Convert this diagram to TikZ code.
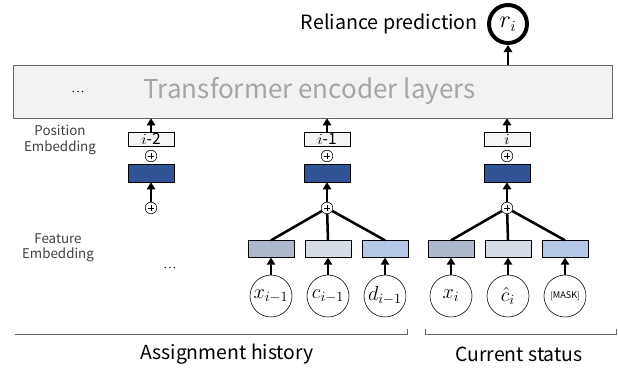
\documentclass[tikz,border=0pt]{standalone}
\usepackage{fontspec}
\setmainfont{Noto Sans CJK JP}
\usepackage{xcolor}
\usetikzlibrary{arrows.meta,positioning,calc}
\definecolor{layergray}{HTML}{F2F2F2}
\definecolor{embblue}{HTML}{2F5597}
\definecolor{featx}{HTML}{ADB9CA}
\definecolor{featc}{HTML}{D6DCE5}
\definecolor{featd}{HTML}{B4C7E7}
\begin{document}
\begin{tikzpicture}[x=0.025cm,y=-0.025cm,>={Triangle[length=5pt,width=6pt]},
  layer/.style={draw=gray!80!black,fill=layergray,minimum width=14.975cm,minimum height=1.325cm,text=gray!70,font=\fontsize{18.5}{20}\selectfont},
  posbox/.style={draw,fill=gray!8,minimum width=1.15cm,minimum height=0.35cm,inner sep=0pt,font=\fontsize{11}{12}\selectfont},
  embbox/.style={draw,fill=embblue,minimum width=1.15cm,minimum height=0.45cm,inner sep=0pt},
  featbox/.style={draw,fill=#1,minimum width=1.15cm,minimum height=0.42cm,inner sep=0pt},
  input/.style={draw,circle,minimum size=1.05cm,inner sep=0pt,font=\fontsize{14}{16}\selectfont},
  plus/.style={draw,circle,fill=white,minimum size=0.29cm,inner sep=0pt,
    path picture={\draw[line width=0.4pt] ($(path picture bounding box.center)+(-2.2pt,0)$) -- +(4.4pt,0)
      ($(path picture bounding box.center)+(0,-2.2pt)$) -- +(0,4.4pt);}},
  sidelabel/.style={align=center,font=\fontsize{9.5}{11}\selectfont,text=black!75},
  conn/.style={line width=1.8pt},
  arr/.style={->,line width=1.8pt}]
  \useasboundingbox (0,0) rectangle (618,370);

  % output
  \node[draw,circle,line width=2.8pt,minimum size=0.95cm,inner sep=0pt,font=\fontsize{16}{18}\selectfont] (r) at (508,24) {$r_i$};
  \node[left=3pt of r,font=\fontsize{14}{16}\selectfont] (rlabel) {Reliance prediction};

  % encoder
  \node[layer] (enc) at (312.5,91.5) {\hspace{-4pt}Transformer encoder layers};
  \node (encdots) at (78,92) {$\cdot\!\cdot\!\cdot$};
  \draw[arr] (enc.north -| r) -- (r);

  \node[sidelabel] (poslabel) at (60,140) {Position\\Embedding};
  \node[sidelabel] (featlabel) at (58,248) {Feature\\Embedding};

  % position embedding, three steps
  \node[posbox] (posA) at (151,139) {$i$-2};
  \node[posbox] (posB) at (327,139) {$i$-1};
  \node[posbox] (posC) at (507,139) {$i$};
  \foreach \c in {A,B,C}{
    \node[plus] (padd\c) at ($(pos\c)+(0,17)$) {};
    \node[embbox] (emb\c) at ($(pos\c)+(0,34)$) {};
    \node[plus] (sum\c) at ($(pos\c)+(0,69)$) {};
    \draw[arr] (pos\c.north) -- (pos\c.north |- enc.south);
    \draw[arr] (sum\c) -- (emb\c);
  }
  \node (featdots) at (170,268) {$\cdot\!\cdot\!\cdot$};

  % assignment history
  \node[featbox=featx] (fxB) at (271,249) {};
  \node[featbox=featc] (fcB) at (328,249) {};
  \node[featbox=featd] (fdB) at (385,249) {};
  \node[input] (xB) at (271,296) {$x_{i-1}$};
  \node[input] (cB) at (328,296) {$c_{i-1}$};
  \node[input] (dB) at (385,296) {$d_{i-1}$};

  % current status
  \node[featbox=featx] (fxC) at (451,249) {};
  \node[featbox=featc] (fcC) at (508,249) {};
  \node[featbox=featd] (fdC) at (565,249) {};
  \node[input] (xC) at (451,296) {$x_i$};
  \node[input] (cC) at (508,296) {$\hat{c}_i$};
  \node[input] (dC) at (565,296) {\fontsize{6.5}{7}\selectfont$[\mathit{MASK}]$};

  \foreach \c in {B,C}{
    \foreach \f in {x,c,d}{
      \draw[arr] (\f\c) -- (f\f\c);
      \draw[conn] (f\f\c.north) -- (sum\c);
    }
  }

  % brackets
  \draw[gray!80!black] (15,334) -- (407,334) -- (407,329);
  \draw[gray!80!black] (425,329) -- (425,334) -- (616,334) -- (616,329);
  \node[font=\fontsize{13.8}{16}\selectfont] (hist) at (227,354) {Assignment history};
  \node[font=\fontsize{13.8}{16}\selectfont] (curr) at (519,354) {Current status};
\end{tikzpicture}
\end{document}
